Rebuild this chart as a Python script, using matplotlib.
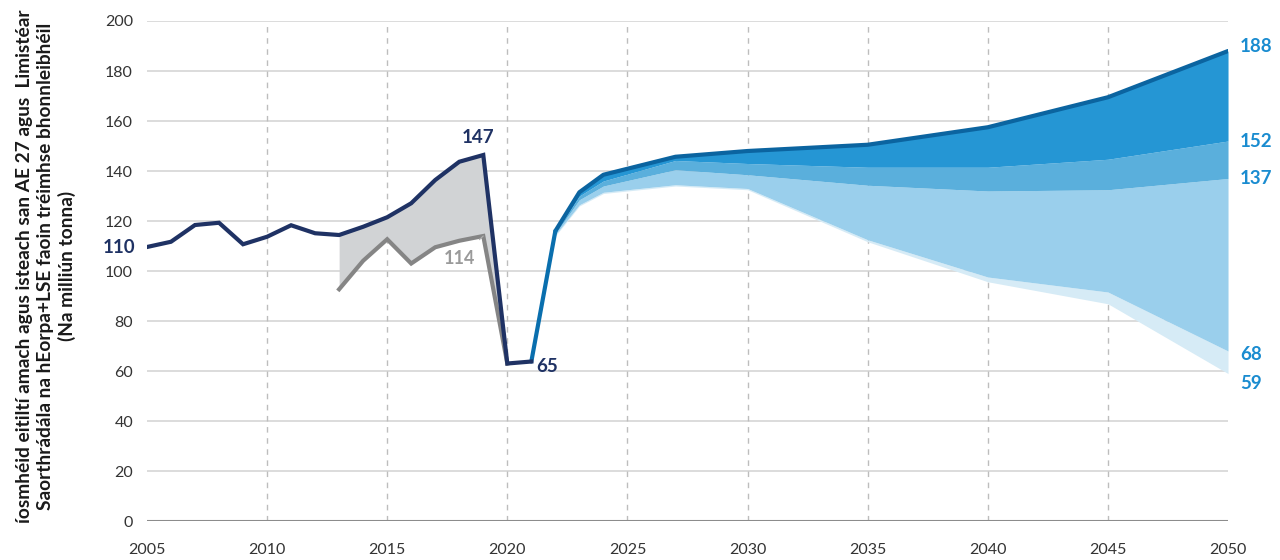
import matplotlib
matplotlib.use("Agg")
import matplotlib.pyplot as plt

# ---- data ----
hist_years = list(range(2005, 2022))
hist_values = [109.6, 111.7, 118.4, 119.3, 110.7, 113.7, 118.3, 115.1, 114.4, 117.7,
               121.5, 127.1, 136.4, 143.7, 146.4, 63.0, 63.8]
alt_years = list(range(2013, 2021))
alt_values = [92.7, 104.1, 112.7, 103.0, 109.5, 112.1, 114.0, 63.0]

proj_years = [2021, 2022, 2023, 2024, 2027, 2030, 2035, 2040, 2045, 2050]
proj_high = [63.8, 116.0, 131.5, 138.5, 145.7, 148.0, 150.5, 157.5, 169.5, 188.0]
proj_b2 = [63.8, 115.5, 130.0, 136.0, 144.2, 143.0, 141.5, 141.5, 144.7, 152.0]
proj_b3 = [63.8, 115.0, 128.5, 134.0, 140.5, 138.5, 134.3, 132.0, 132.5, 137.0]
proj_b4 = [63.8, 114.5, 126.5, 131.5, 134.5, 133.0, 112.5, 97.6, 91.6, 68.0]
proj_low = [63.8, 114.0, 126.0, 131.0, 134.0, 132.5, 111.7, 95.7, 86.9, 59.0]

x_ticks = list(range(2005, 2051, 5))
y_ticks = list(range(0, 201, 20))

ylabel_text = ("íosmhéid eitiltí amach agus isteach san AE 27 agus  Limistéar\n"
               "Saorthrádála na hEorpa+LSE faoin tréimhse bhonnleibhéil\n"
               "(Na milliún tonna)")

# ---- style ----
plt.rcParams['font.family'] = ['Lato', 'DejaVu Sans']
NAVY = '#1f3264'
GRAY = '#858585'
GRAYFILL = '#d1d3d5'
C1 = '#2596d4'
C2 = '#5aafdc'
C3 = '#9acfec'
C4 = '#d6ebf6'
TOPLINE = '#0b64a0'
PROJLINE = '#0a6fae'
LABELBLUE = '#1a8cd0'

fig = plt.figure(figsize=(12.8, 5.6), dpi=100)
ax = fig.add_axes([0.1148, 0.0696, 0.9594 - 0.1148, 0.9625 - 0.0696])

ax.set_xlim(2005, 2050)
ax.set_ylim(0, 200)

# grid
for y in y_ticks[1:]:
    ax.axhline(y, color='#d6d6d6', lw=1.2, zorder=0)
for x in x_ticks[1:-1]:
    ax.axvline(x, color='#bdbdbd', lw=1.0, ls=(0, (4, 4)), zorder=0)
ax.axhline(0, color='#8c8c8c', lw=1.5, zorder=1)

# projection bands
ax.fill_between(proj_years, proj_b4, proj_low, color=C4, lw=0, zorder=2)
ax.fill_between(proj_years, proj_b3, proj_b4, color=C3, lw=0, zorder=2)
ax.fill_between(proj_years, proj_b2, proj_b3, color=C2, lw=0, zorder=2)
ax.fill_between(proj_years, proj_high, proj_b2, color=C1, lw=0, zorder=2)
ax.plot(proj_years[1:], proj_high[1:], color=TOPLINE, lw=3, zorder=4, solid_capstyle='round')
ax.plot(proj_years[:2], proj_high[:2], color=PROJLINE, lw=3, zorder=4, solid_capstyle='round')

# historical gray band
hv = dict(zip(hist_years, hist_values))
upper = [hv[y] for y in alt_years]
ax.fill_between(alt_years, alt_values, upper, color=GRAYFILL, lw=0, zorder=2)
ax.plot(alt_years, alt_values, color=GRAY, lw=3, zorder=3, solid_joinstyle='miter')
ax.plot(hist_years, hist_values, color=NAVY, lw=3, zorder=5, solid_joinstyle='miter')

# spines / ticks
for s in ax.spines.values():
    s.set_visible(False)
ax.set_xticks(x_ticks)
ax.set_yticks(y_ticks)
ax.tick_params(axis='both', length=0, labelsize=11.5, colors='#333333')
ax.tick_params(axis='x', pad=16)
ax.tick_params(axis='y', pad=10)

# labels
bold = dict(fontweight='bold', fontsize=13.5)
ax.text(2004.5, hist_values[0], "110", color=NAVY, ha='right', va='center', **bold,
        clip_on=False)
ax.text(2018.8, 150, "147", color=NAVY, ha='center', va='bottom', **bold)
ax.text(2021.2, 62, "65", color=NAVY, ha='left', va='center', **bold)
ax.annotate("114", xy=(2019, alt_values[6]), xytext=(2018.0, 105),
            color='#9a9a9a', fontweight='bold', fontsize=13, ha='center', va='center',
            arrowprops=dict(arrowstyle='-', color='#b0b0b0', lw=0.8,
                            shrinkA=8, shrinkB=0))
for v, lab, dy in [(proj_high[-1], "188", 2), (proj_b2[-1], "152", 0),
                   (proj_b3[-1], "137", 0), (proj_b4[-1], "68", -1.5), (proj_low[-1], "59", -4)]:
    ax.text(2050.5, v + dy, lab, color=LABELBLUE, ha='left', va='center',
            clip_on=False, **bold)

fig.text(0.036, 0.525, ylabel_text, rotation=90, ha='center', va='center',
         fontsize=13.8, fontweight='bold', color='#1a1a1a', linespacing=1.3)

fig.savefig("out.png", dpi=100)
